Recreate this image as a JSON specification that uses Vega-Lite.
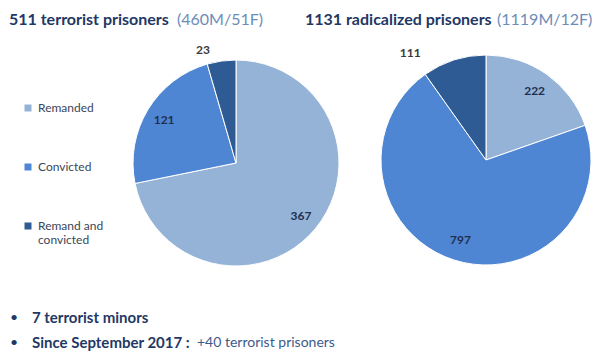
{
  "$schema": "https://vega.github.io/schema/vega-lite/v6.json",
  "width": 595,
  "height": 352,
  "autosize": "none",
  "padding": 0,
  "background": "white",
  "config": {"view": {"stroke": null}, "font": "Lato", "text": {"font": "Lato"}},
  "datasets": {
    "terrorist": [
      {"cat": "Remanded", "n": 367, "k": 1},
      {"cat": "Convicted", "n": 121, "k": 2},
      {"cat": "Remand and convicted", "n": 23, "k": 3}
    ],
    "radicalized": [
      {"cat": "Remanded", "n": 222, "k": 1},
      {"cat": "Convicted", "n": 797, "k": 2},
      {"cat": "Remand and convicted", "n": 111, "k": 3}
    ],
    "one": [{}]
  },
  "layer": [
    {
      "data": {"name": "terrorist"},
      "layer": [
        {
          "mark": {"type": "arc", "outerRadius": 103, "stroke": "white", "strokeWidth": 1},
          "encoding": {
            "theta": {"field": "n", "type": "quantitative", "stack": "normalize"},
            "order": {"field": "k", "type": "quantitative"},
            "color": {
              "field": "cat", "type": "nominal",
              "scale": {"domain": ["Remanded", "Convicted", "Remand and convicted"], "range": ["#95b3d7", "#4f86d3", "#2f5b94"]},
              "legend": {
                "orient": "none", "legendX": 22, "legendY": 102, "title": null,
                "symbolType": "square", "symbolSize": 49, "symbolStrokeWidth": 0,
                "labelFontSize": 12, "labelColor": "#3b4657", "labelFont": "Lato",
                "rowPadding": 47, "labelOffset": 4,
                "labelExpr": "datum.label == 'Remand and convicted' ? ['Remand and', 'convicted'] : datum.label"
              }
            },
            "x": {"value": 236},
            "y": {"value": 163}
          }
        },
        {
          "mark": {"type": "text", "radius": 84, "fontSize": 12, "fontWeight": "bold", "color": "#1f2f4f"},
          "encoding": {
            "theta": {"field": "n", "type": "quantitative", "stack": "normalize"},
            "order": {"field": "k", "type": "quantitative"},
            "text": {"condition": {"test": "datum.cat === 'Remand and convicted'", "value": ""}, "field": "n", "type": "quantitative"},
            "x": {"value": 236},
            "y": {"value": 163}
          }
        },
        {
          "transform": [
            {"stack": "n", "groupby": [], "offset": "normalize", "sort": [{"field": "k"}], "as": ["t0", "t1"]},
            {"filter": "datum.cat === 'Remand and convicted'"}
          ],
          "mark": {"type": "text", "radius": 118, "fontSize": 12, "fontWeight": "bold", "color": "#3a3a3a"},
          "encoding": {
            "theta": {"field": "t0", "type": "quantitative"},
            "text": {"field": "n", "type": "quantitative"},
            "x": {"value": 236},
            "y": {"value": 163}
          }
        }
      ]
    },
    {
      "data": {"name": "radicalized"},
      "layer": [
        {
          "mark": {"type": "arc", "outerRadius": 105, "stroke": "white", "strokeWidth": 1},
          "encoding": {
            "theta": {"field": "n", "type": "quantitative", "stack": "normalize"},
            "order": {"field": "k", "type": "quantitative"},
            "color": {"field": "cat", "type": "nominal"},
            "x": {"value": 486},
            "y": {"value": 160}
          }
        },
        {
          "mark": {"type": "text", "radius": 84, "fontSize": 12, "fontWeight": "bold", "color": "#1f2f4f"},
          "encoding": {
            "theta": {"field": "n", "type": "quantitative", "stack": "normalize"},
            "order": {"field": "k", "type": "quantitative"},
            "text": {"condition": {"test": "datum.cat === 'Remand and convicted'", "value": ""}, "field": "n", "type": "quantitative"},
            "x": {"value": 486},
            "y": {"value": 160}
          }
        },
        {
          "transform": [
            {"stack": "n", "groupby": [], "offset": "normalize", "sort": [{"field": "k"}], "as": ["t0", "t1"]},
            {"filter": "datum.cat === 'Remand and convicted'"}
          ],
          "mark": {"type": "text", "radius": 131, "fontSize": 12, "fontWeight": "bold", "color": "#3a3a3a"},
          "encoding": {
            "theta": {"field": "t0", "type": "quantitative"},
            "text": {"field": "n", "type": "quantitative"},
            "x": {"value": 486},
            "y": {"value": 160}
          }
        }
      ]
    },
    {
      "data": {"name": "one"},
      "mark": {"type": "text", "text": "511 terrorist prisoners", "align": "left", "baseline": "middle", "fontSize": 16, "fontWeight": "bold", "color": "#1f3864"},
      "encoding": {"x": {"value": 9}, "y": {"value": 20}}
    },
    {
      "data": {"name": "one"},
      "mark": {"type": "text", "text": "(460M/51F)", "align": "left", "baseline": "middle", "fontSize": 16, "letterSpacing": 0.8, "color": "#6d8cb8"},
      "encoding": {"x": {"value": 177}, "y": {"value": 20}}
    },
    {
      "data": {"name": "one"},
      "mark": {"type": "text", "text": "1131 radicalized prisoners", "align": "left", "baseline": "middle", "fontSize": 16, "fontWeight": "bold", "color": "#1f3864"},
      "encoding": {"x": {"value": 305}, "y": {"value": 20}}
    },
    {
      "data": {"name": "one"},
      "mark": {"type": "text", "text": "(1119M/12F)", "align": "left", "baseline": "middle", "fontSize": 16, "letterSpacing": 0.8, "color": "#6d8cb8"},
      "encoding": {"x": {"value": 497}, "y": {"value": 20}}
    },
    {
      "data": {"name": "one"},
      "mark": {"type": "text", "text": "•", "align": "left", "baseline": "middle", "fontSize": 14, "color": "#1f3864"},
      "encoding": {"x": {"value": 10}, "y": {"value": 318}}
    },
    {
      "data": {"name": "one"},
      "mark": {"type": "text", "text": "•", "align": "left", "baseline": "middle", "fontSize": 14, "color": "#1f3864"},
      "encoding": {"x": {"value": 10}, "y": {"value": 343}}
    },
    {
      "data": {"name": "one"},
      "mark": {"type": "text", "text": "7 terrorist minors", "align": "left", "baseline": "middle", "fontSize": 15, "fontWeight": "bold", "color": "#1f3864"},
      "encoding": {"x": {"value": 32}, "y": {"value": 318}}
    },
    {
      "data": {"name": "one"},
      "mark": {"type": "text", "text": "Since September 2017 :", "align": "left", "baseline": "middle", "fontSize": 15, "fontWeight": "bold", "color": "#1f3864"},
      "encoding": {"x": {"value": 32}, "y": {"value": 343}}
    },
    {
      "data": {"name": "one"},
      "mark": {"type": "text", "text": "+40 terrorist prisoners", "align": "left", "baseline": "middle", "fontSize": 14, "color": "#3d5a8a"},
      "encoding": {"x": {"value": 197}, "y": {"value": 343}}
    }
  ]
}
